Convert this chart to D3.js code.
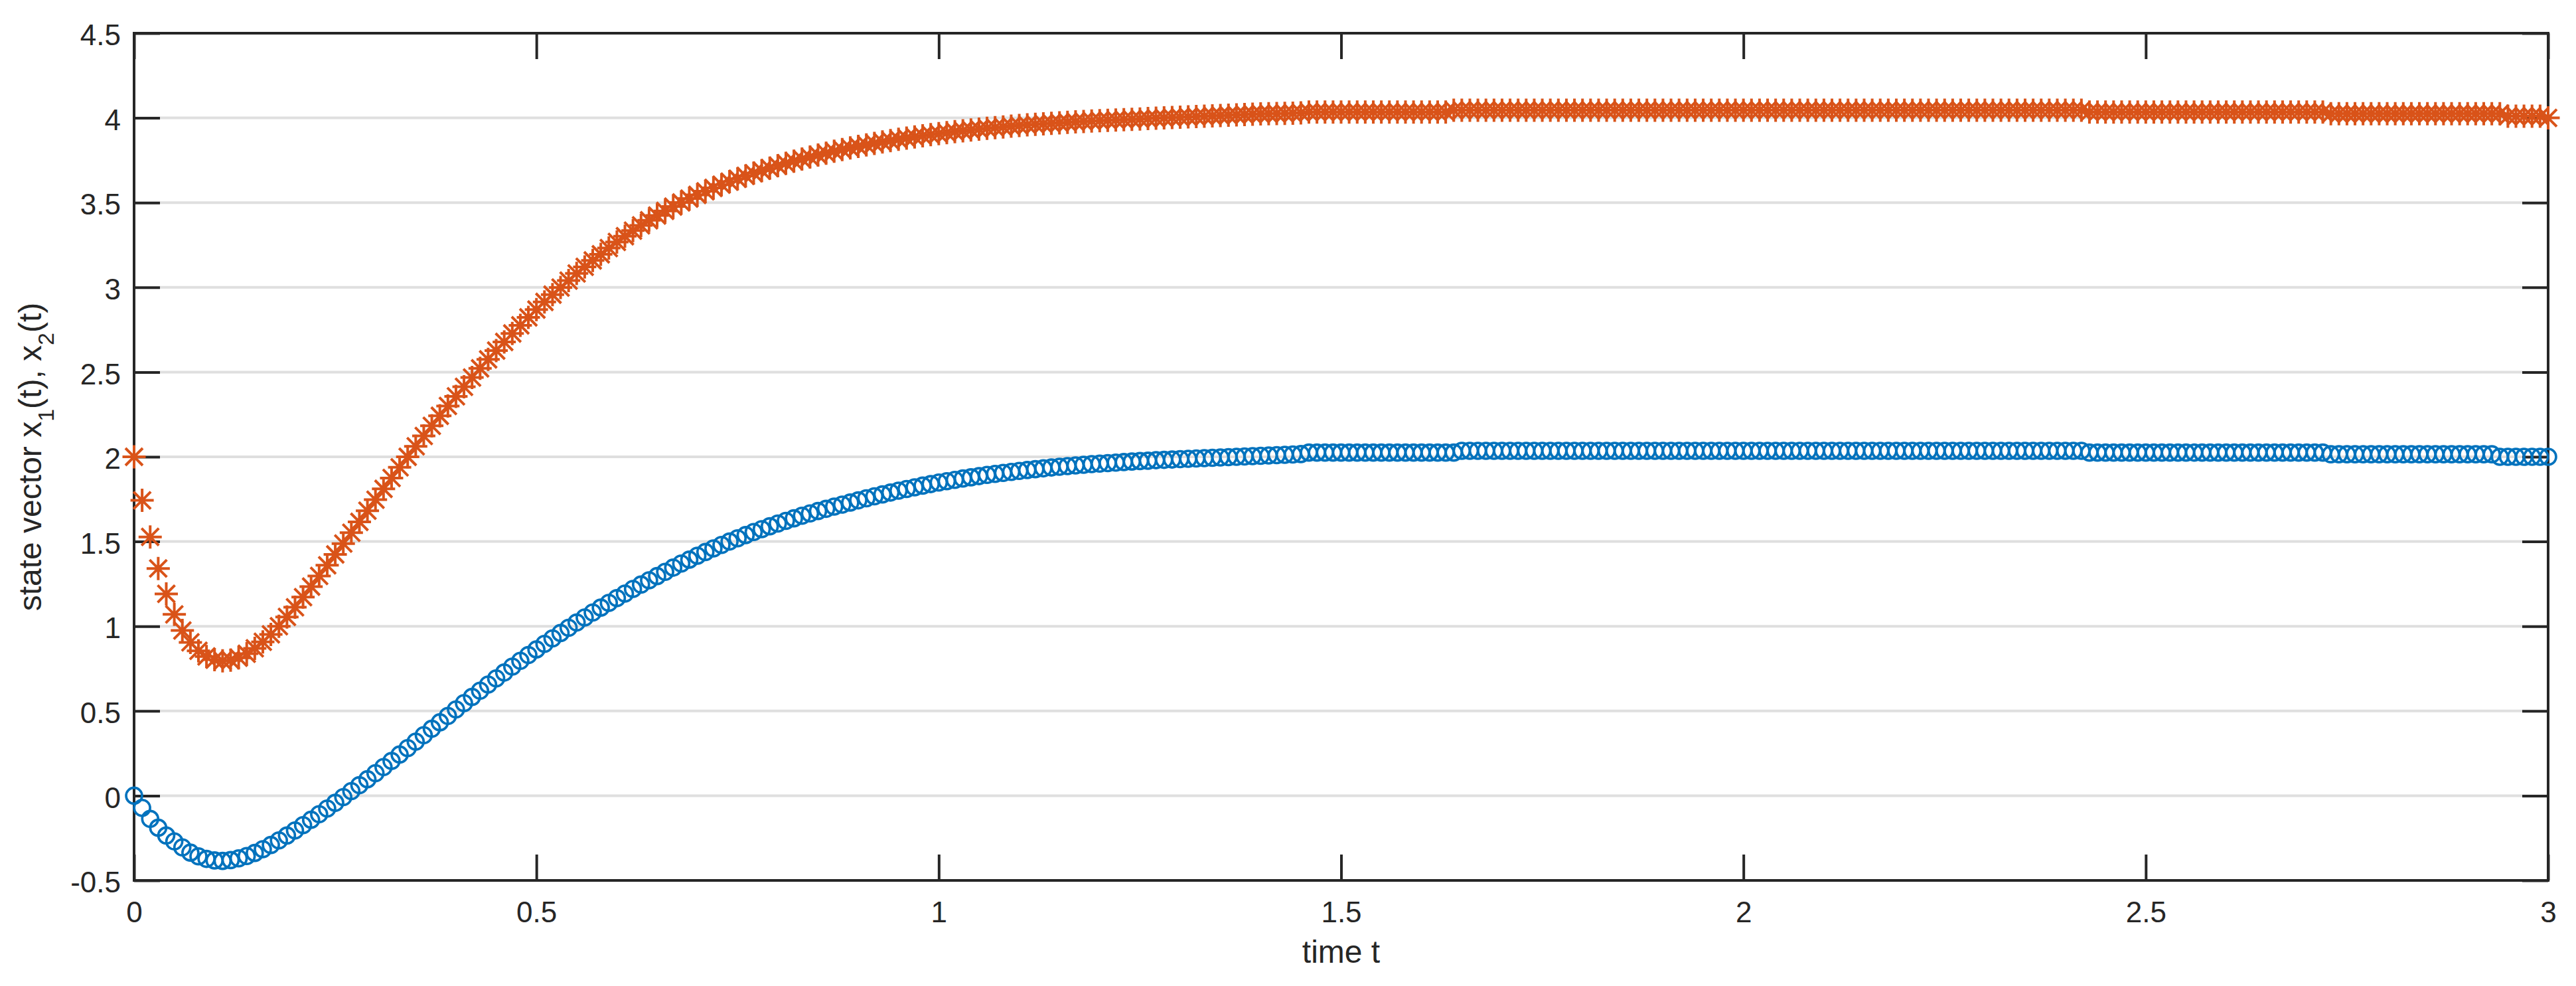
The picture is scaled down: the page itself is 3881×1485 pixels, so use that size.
<!DOCTYPE html>
<html>
<head>
<meta charset="utf-8">
<script src="https://cdnjs.cloudflare.com/ajax/libs/d3/7.8.5/d3.min.js"></script>
<style>
  body { margin: 0; background: #fff; }
  text { font-family: "Liberation Sans", Arial, Helvetica, sans-serif; fill: #262626; }
</style>
</head>
<body>
<svg id="chart" width="3881" height="1485"></svg>
<script>
// sample times (s)
const timeT = [
  0,0.01,0.02,0.03,0.04,0.05,0.06,0.07,0.08,0.09,
  0.1,0.11,0.12,0.13,0.14,0.15,0.16,0.17,0.18,0.19,
  0.2,0.21,0.22,0.23,0.24,0.25,0.26,0.27,0.28,0.29,
  0.3,0.31,0.32,0.33,0.34,0.35,0.36,0.37,0.38,0.39,
  0.4,0.41,0.42,0.43,0.44,0.45,0.46,0.47,0.48,0.49,
  0.5,0.51,0.52,0.53,0.54,0.55,0.56,0.57,0.58,0.59,
  0.6,0.61,0.62,0.63,0.64,0.65,0.66,0.67,0.68,0.69,
  0.7,0.71,0.72,0.73,0.74,0.75,0.76,0.77,0.78,0.79,
  0.8,0.81,0.82,0.83,0.84,0.85,0.86,0.87,0.88,0.89,
  0.9,0.91,0.92,0.93,0.94,0.95,0.96,0.97,0.98,0.99,
  1,1.01,1.02,1.03,1.04,1.05,1.06,1.07,1.08,1.09,
  1.1,1.11,1.12,1.13,1.14,1.15,1.16,1.17,1.18,1.19,
  1.2,1.21,1.22,1.23,1.24,1.25,1.26,1.27,1.28,1.29,
  1.3,1.31,1.32,1.33,1.34,1.35,1.36,1.37,1.38,1.39,
  1.4,1.41,1.42,1.43,1.44,1.45,1.46,1.47,1.48,1.49,
  1.5,1.51,1.52,1.53,1.54,1.55,1.56,1.57,1.58,1.59,
  1.6,1.61,1.62,1.63,1.64,1.65,1.66,1.67,1.68,1.69,
  1.7,1.71,1.72,1.73,1.74,1.75,1.76,1.77,1.78,1.79,
  1.8,1.81,1.82,1.83,1.84,1.85,1.86,1.87,1.88,1.89,
  1.9,1.91,1.92,1.93,1.94,1.95,1.96,1.97,1.98,1.99,
  2,2.01,2.02,2.03,2.04,2.05,2.06,2.07,2.08,2.09,
  2.1,2.11,2.12,2.13,2.14,2.15,2.16,2.17,2.18,2.19,
  2.2,2.21,2.22,2.23,2.24,2.25,2.26,2.27,2.28,2.29,
  2.3,2.31,2.32,2.33,2.34,2.35,2.36,2.37,2.38,2.39,
  2.4,2.41,2.42,2.43,2.44,2.45,2.46,2.47,2.48,2.49,
  2.5,2.51,2.52,2.53,2.54,2.55,2.56,2.57,2.58,2.59,
  2.6,2.61,2.62,2.63,2.64,2.65,2.66,2.67,2.68,2.69,
  2.7,2.71,2.72,2.73,2.74,2.75,2.76,2.77,2.78,2.79,
  2.8,2.81,2.82,2.83,2.84,2.85,2.86,2.87,2.88,2.89,
  2.9,2.91,2.92,2.93,2.94,2.95,2.96,2.97,2.98,2.99,
  3
];

// state x1(t), blue circles
const stateX1 = [
  0.000,-0.072,-0.137,-0.189,-0.235,-0.270,-0.305,-0.336,-0.358,-0.373,
  -0.382,-0.385,-0.380,-0.370,-0.356,-0.338,-0.316,-0.291,-0.264,-0.235,
  -0.205,-0.174,-0.142,-0.109,-0.076,-0.042,-0.008,0.027,0.062,0.097,
  0.133,0.169,0.205,0.243,0.281,0.319,0.357,0.395,0.433,0.471,
  0.509,0.546,0.583,0.620,0.656,0.692,0.727,0.762,0.796,0.830,
  0.863,0.896,0.928,0.960,0.991,1.022,1.052,1.081,1.110,1.138,
  1.166,1.193,1.220,1.246,1.271,1.296,1.321,1.346,1.370,1.393,
  1.416,1.438,1.459,1.480,1.500,1.519,1.538,1.556,1.573,1.590,
  1.606,1.622,1.637,1.652,1.666,1.680,1.693,1.706,1.718,1.730,
  1.743,1.755,1.767,1.778,1.789,1.800,1.810,1.820,1.830,1.839,
  1.848,1.856,1.864,1.872,1.879,1.886,1.893,1.899,1.905,1.911,
  1.917,1.922,1.927,1.932,1.937,1.941,1.945,1.949,1.953,1.957,
  1.960,1.963,1.966,1.969,1.972,1.975,1.977,1.980,1.982,1.984,
  1.986,1.988,1.990,1.992,1.994,1.996,1.998,2.000,2.002,2.004,
  2.006,2.008,2.010,2.012,2.014,2.016,2.025,2.025,2.025,2.025,
  2.025,2.025,2.025,2.025,2.025,2.025,2.025,2.025,2.025,2.025,
  2.025,2.025,2.025,2.025,2.025,2.035,2.035,2.035,2.035,2.035,
  2.035,2.035,2.035,2.035,2.035,2.035,2.035,2.035,2.035,2.035,
  2.035,2.035,2.035,2.035,2.035,2.035,2.035,2.035,2.035,2.035,
  2.035,2.035,2.035,2.035,2.035,2.035,2.035,2.035,2.035,2.035,
  2.035,2.035,2.035,2.035,2.035,2.035,2.035,2.035,2.035,2.035,
  2.035,2.035,2.035,2.035,2.035,2.035,2.035,2.035,2.035,2.035,
  2.035,2.035,2.035,2.035,2.035,2.035,2.035,2.035,2.035,2.035,
  2.035,2.035,2.035,2.035,2.035,2.035,2.035,2.035,2.035,2.035,
  2.035,2.035,2.035,2.025,2.025,2.025,2.025,2.025,2.025,2.025,
  2.025,2.025,2.025,2.025,2.025,2.025,2.025,2.025,2.025,2.025,
  2.025,2.025,2.025,2.025,2.025,2.025,2.025,2.025,2.025,2.025,
  2.025,2.025,2.025,2.015,2.015,2.015,2.015,2.015,2.015,2.015,
  2.015,2.015,2.015,2.015,2.015,2.015,2.015,2.015,2.015,2.015,
  2.015,2.015,2.015,2.015,2.000,2.000,2.000,2.000,2.000,2.000,
  2.000
];

// state x2(t), orange asterisks
const stateX2 = [
  2.000,1.743,1.527,1.341,1.191,1.070,0.975,0.905,0.855,0.822,
  0.803,0.796,0.800,0.814,0.838,0.870,0.908,0.952,1.000,1.055,
  1.112,1.172,1.234,1.297,1.360,1.424,1.488,1.552,1.616,1.682,
  1.747,1.811,1.875,1.938,2.000,2.062,2.123,2.183,2.242,2.300,
  2.357,2.413,2.468,2.522,2.575,2.627,2.678,2.728,2.776,2.823,
  2.869,2.914,2.957,2.999,3.040,3.082,3.121,3.159,3.195,3.232,
  3.268,3.302,3.335,3.366,3.396,3.424,3.451,3.477,3.501,3.524,
  3.546,3.567,3.587,3.606,3.624,3.641,3.658,3.674,3.689,3.704,
  3.718,3.732,3.745,3.757,3.769,3.781,3.792,3.803,3.813,3.823,
  3.832,3.841,3.850,3.858,3.866,3.874,3.881,3.888,3.895,3.901,
  3.907,3.913,3.919,3.924,3.929,3.934,3.939,3.943,3.947,3.951,
  3.955,3.959,3.962,3.965,3.968,3.971,3.974,3.977,3.979,3.982,
  3.984,3.986,3.988,3.990,3.992,3.994,3.996,3.998,4.000,4.002,
  4.004,4.006,4.008,4.010,4.012,4.014,4.016,4.018,4.020,4.022,
  4.024,4.025,4.026,4.027,4.028,4.030,4.035,4.035,4.035,4.035,
  4.035,4.035,4.035,4.035,4.035,4.035,4.035,4.035,4.035,4.035,
  4.035,4.035,4.035,4.035,4.045,4.045,4.045,4.045,4.045,4.045,
  4.045,4.045,4.045,4.045,4.045,4.045,4.045,4.045,4.045,4.045,
  4.045,4.045,4.045,4.045,4.045,4.045,4.045,4.045,4.045,4.045,
  4.045,4.045,4.045,4.045,4.045,4.045,4.045,4.045,4.045,4.045,
  4.045,4.045,4.045,4.045,4.045,4.045,4.045,4.045,4.045,4.045,
  4.045,4.045,4.045,4.045,4.045,4.045,4.045,4.045,4.045,4.045,
  4.045,4.045,4.045,4.045,4.045,4.045,4.045,4.045,4.045,4.045,
  4.045,4.045,4.045,4.045,4.045,4.045,4.045,4.045,4.045,4.045,
  4.045,4.045,4.045,4.035,4.035,4.035,4.035,4.035,4.035,4.035,
  4.035,4.035,4.035,4.035,4.035,4.035,4.035,4.035,4.035,4.035,
  4.035,4.035,4.035,4.035,4.035,4.035,4.035,4.035,4.035,4.035,
  4.035,4.035,4.035,4.025,4.025,4.025,4.025,4.025,4.025,4.025,
  4.025,4.025,4.025,4.025,4.025,4.025,4.025,4.025,4.025,4.025,
  4.025,4.025,4.025,4.025,4.025,4.010,4.010,4.010,4.010,4.010,
  4.000
];

const xTicks = [0, 0.5, 1, 1.5, 2, 2.5, 3];
const xTickLabels = ["0", "0.5", "1", "1.5", "2", "2.5", "3"];
const yTicks = [-0.5, 0, 0.5, 1, 1.5, 2, 2.5, 3, 3.5, 4, 4.5];
const yTickLabels = ["-0.5", "0", "0.5", "1", "1.5", "2", "2.5", "3", "3.5", "4", "4.5"];

const axisColor = "#262626";
const gridColor = "#dfdfdf";
const blue = "#0072bd";
const orange = "#d95319";

const margin = {top: 50, right: 42, bottom: 159, left: 202},
    width = 3881 - margin.left - margin.right,
    height = 1485 - margin.top - margin.bottom;
const tickLen = 39;

let svg = d3.select("#chart").append("g").attr("transform", "translate(" + margin.left + "," + margin.top + ")");

const x = d3.scaleLinear().domain([0, 3]).range([0, width]);
const y = d3.scaleLinear().domain([-0.5, 4.5]).range([height, 0]);

// horizontal grid
svg.append("g").selectAll("line").data(yTicks.slice(1, -1)).enter().append("line")
    .attr("x1", 0).attr("x2", width)
    .attr("y1", function (d) { return y(d); }).attr("y2", function (d) { return y(d); })
    .attr("stroke", gridColor).attr("stroke-width", 4);

function styleAxis(g) {
    g.select(".domain").remove();
    g.selectAll(".tick line").attr("stroke", axisColor).attr("stroke-width", 4);
    g.selectAll(".tick text").attr("fill", axisColor).style("font-size", "44px");
}

// bottom / left axes with labels, top / right with ticks only (box on)
svg.append("g").attr("transform", "translate(0," + height + ")")
    .call(d3.axisBottom(x).tickValues(xTicks).tickSizeInner(-tickLen).tickSizeOuter(0).tickPadding(32)
        .tickFormat(function (d, i) { return xTickLabels[i]; }))
    .call(styleAxis);
svg.append("g")
    .call(d3.axisLeft(y).tickValues(yTicks).tickSizeInner(-tickLen).tickSizeOuter(0).tickPadding(20)
        .tickFormat(function (d, i) { return yTickLabels[i]; }))
    .call(styleAxis)
    .selectAll(".tick text").attr("dy", "0.4em");
svg.append("g")
    .call(d3.axisTop(x).tickValues(xTicks).tickSizeInner(-tickLen).tickSizeOuter(0).tickFormat(""))
    .call(styleAxis);
svg.append("g").attr("transform", "translate(" + width + ",0)")
    .call(d3.axisRight(y).tickValues(yTicks).tickSizeInner(-tickLen).tickSizeOuter(0).tickFormat(""))
    .call(styleAxis);

svg.append("rect").attr("x", 0).attr("y", 0).attr("width", width).attr("height", height)
    .attr("fill", "none").attr("stroke", axisColor).attr("stroke-width", 4);

// x1: circles
svg.append("g").selectAll("circle").data(timeT).enter().append("circle")
    .attr("cx", function (d) { return x(d); })
    .attr("cy", function (d, i) { return y(stateX1[i]); })
    .attr("r", 12)
    .attr("fill", "none").attr("stroke", blue).attr("stroke-width", 3.6);

// x2: asterisks
const star = "M-17.5,0H17.5M0,-17.5V17.5M-13,-13L13,13M-13,13L13,-13";
svg.append("g").selectAll("path").data(timeT).enter().append("path")
    .attr("d", star)
    .attr("transform", function (d, i) { return "translate(" + x(d) + "," + y(stateX2[i]) + ")"; })
    .attr("fill", "none").attr("stroke", orange).attr("stroke-width", 4);

// axis titles
svg.append("text").attr("x", width / 2).attr("y", height + 124).attr("text-anchor", "middle")
    .style("font-size", "48px").text("time t");

let yl = svg.append("text").attr("transform", "translate(-140," + (height / 2) + ") rotate(-90)")
    .attr("text-anchor", "middle").style("font-size", "48px");
yl.append("tspan").text("state vector x");
yl.append("tspan").attr("baseline-shift", "sub").style("font-size", "34px").text("1");
yl.append("tspan").text("(t), x");
yl.append("tspan").attr("baseline-shift", "sub").style("font-size", "34px").text("2");
yl.append("tspan").text("(t)");
</script>
</body>
</html>
